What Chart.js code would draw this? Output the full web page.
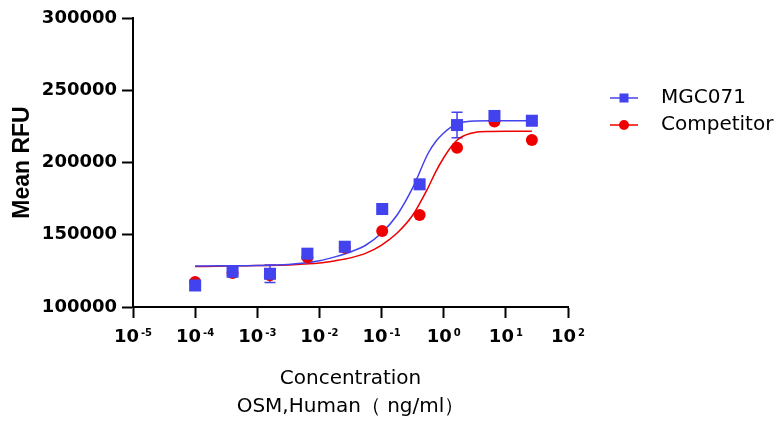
<!DOCTYPE html>
<html>
<head>
<title>OSM dose response</title>
<script src="https://cdn.jsdelivr.net/npm/chart.js"></script>
<style>
  body { margin: 0; background: #fff; }
  #wrap { position: relative; width: 779px; height: 426px; }
</style>
</head>
<body>
<div id="wrap"><canvas id="chart" width="779" height="426"></canvas></div>
<script>
// measured points (ng/ml, mean RFU)
const conc = [0.0001, 0.0004, 0.0016, 0.0064, 0.0256, 0.1024, 0.4096, 1.6384, 6.5536, 26.2144];
const mgc071 = [114900, 124400, 123000, 136900, 141700, 167800, 184900, 225900, 232200, 228900];
const mgc071Err = [0, 0, 6000, 0, 0, 0, 0, 8800, 0, 0];
const competitor = [117300, 123500, 122000, 134500, 141000, 152600, 163700, 210200, 228300, 215600];

// fitted curves
const curveConc = [0.0001, 0.000316, 0.001, 0.00316, 0.00562, 0.01, 0.0178, 0.0316, 0.0562, 0.1, 0.178,
                   0.316, 0.562, 0.75, 1, 1.33, 1.78, 3.16, 5.62, 10, 26.2];
const mgc071Fit = [128400, 128500, 128700, 129400, 130400, 132000, 134700, 138100, 142900, 151200, 163700,
                   182400, 206400, 214700, 220400, 224600, 227400, 228800, 228900, 228900, 228900];
const competitorFit = [128000, 128300, 128700, 129100, 129700, 130400, 132000, 134000, 137300, 142900, 151200,
                       163500, 182700, 193900, 203300, 211100, 216700, 220800, 221500, 221600, 221600];

const xTickValues = [1e-5, 1e-4, 1e-3, 1e-2, 1e-1, 1, 10, 100];
const xTickPowers = ['-5', '-4', '-3', '-2', '-1', '0', '1', '2'];
const yTickValues = [100000, 150000, 200000, 250000, 300000];
const yTickLabels = ['100000', '150000', '200000', '250000', '300000'];

const blue = '#4242EE';
const red = '#EE0000';

function pts(xs, ys) {
    return xs.map((x, i) => ({ x: x, y: ys[i] }));
}

// vertical error bars with caps, drawn under the markers
const errorBars = {
    id: 'errorBars',
    beforeDatasetsDraw(chart) {
        const ctx = chart.ctx;
        const xs = chart.scales.x, ys = chart.scales.y;
        ctx.save();
        ctx.strokeStyle = blue;
        ctx.lineWidth = 1.5;
        conc.forEach((c, i) => {
            const e = mgc071Err[i];
            if (!e) return;
            const px = xs.getPixelForValue(c);
            const top = ys.getPixelForValue(mgc071[i] + e);
            const bot = ys.getPixelForValue(mgc071[i] - e);
            ctx.beginPath();
            ctx.moveTo(px, top); ctx.lineTo(px, bot);
            ctx.moveTo(px - 5.5, top); ctx.lineTo(px + 5.5, top);
            ctx.moveTo(px - 5.5, bot); ctx.lineTo(px + 5.5, bot);
            ctx.stroke();
        });
        ctx.restore();
    }
};

// x tick labels as 10 with a raised exponent, centred on each tick
const powerLabels = {
    id: 'powerLabels',
    afterDraw(chart) {
        const ctx = chart.ctx;
        const xs = chart.scales.x;
        const base = chart.chartArea.bottom + 34.5;
        ctx.save();
        ctx.fillStyle = '#000';
        ctx.textBaseline = 'alphabetic';
        ctx.textAlign = 'left';
        xTickValues.forEach((v, i) => {
            ctx.font = 'bold 18px "DejaVu Sans"';
            const wBase = ctx.measureText('10').width;
            ctx.font = 'bold 10px "DejaVu Sans"';
            const wExp = ctx.measureText(xTickPowers[i]).width;
            const left = xs.getPixelForValue(v) - (wBase + 2 + wExp) / 2;
            ctx.font = 'bold 18px "DejaVu Sans"';
            ctx.fillText('10', left, base);
            ctx.font = 'bold 10px "DejaVu Sans"';
            ctx.fillText(xTickPowers[i], left + wBase + 2, base - 6);
        });
        ctx.restore();
    }
};

// legend on the right: line with marker, then the label
const sideLegend = {
    id: 'sideLegend',
    afterDraw(chart) {
        const ctx = chart.ctx;
        const items = chart.data.datasets.slice(0, 2);
        ctx.save();
        ctx.font = '20px "DejaVu Sans"';
        ctx.textBaseline = 'middle';
        items.forEach((ds, i) => {
            const y = 98 + i * 27;
            ctx.strokeStyle = ds.backgroundColor;
            ctx.fillStyle = ds.backgroundColor;
            ctx.lineWidth = 1.5;
            ctx.beginPath();
            ctx.moveTo(610, y); ctx.lineTo(638, y);
            ctx.stroke();
            if (ds.pointStyle === 'rect') {
                ctx.fillRect(619.5, y - 4.5, 9, 9);
            } else {
                ctx.beginPath();
                ctx.arc(624, y, 5, 0, Math.PI * 2);
                ctx.fill();
            }
            ctx.fillStyle = '#000';
            ctx.fillText(ds.label, 661, y);
        });
        ctx.restore();
    }
};

new Chart(document.getElementById('chart'), {
    type: 'scatter',
    data: {
        datasets: [
            {
                label: 'MGC071',
                data: pts(conc, mgc071),
                pointStyle: 'rect',
                pointRadius: 8.5,
                borderWidth: 0,
                backgroundColor: blue,
                borderColor: blue,
                order: 0
            },
            {
                label: 'Competitor',
                data: pts(conc, competitor),
                pointStyle: 'circle',
                pointRadius: 6,
                borderWidth: 0,
                backgroundColor: red,
                borderColor: red,
                order: 1
            },
            {
                label: 'MGC071 fit',
                data: pts(curveConc, mgc071Fit),
                showLine: true,
                pointRadius: 0,
                borderColor: blue,
                borderWidth: 1.5,
                cubicInterpolationMode: 'monotone',
                order: 2
            },
            {
                label: 'Competitor fit',
                data: pts(curveConc, competitorFit),
                showLine: true,
                pointRadius: 0,
                borderColor: red,
                borderWidth: 1.5,
                cubicInterpolationMode: 'monotone',
                order: 3
            }
        ]
    },
    options: {
        responsive: false,
        animation: false,
        devicePixelRatio: 1,
        layout: { padding: { left: 0, top: 18, right: 211, bottom: 0 } },
        plugins: {
            legend: { display: false },
            tooltip: { enabled: false }
        },
        scales: {
            x: {
                type: 'logarithmic',
                min: 1e-5,
                max: 100,
                afterBuildTicks: s => { s.ticks = xTickValues.map(v => ({ value: v })); },
                afterFit: s => { s.height = 119; },
                ticks: { display: false },
                grid: { drawOnChartArea: false, tickLength: 11, tickWidth: 2, tickColor: '#000' },
                border: { color: '#000', width: 2 },
                title: {
                    display: true,
                    text: ['Concentration', 'OSM,Human（ ng/ml）'],
                    color: '#000',
                    font: { family: 'DejaVu Sans', size: 20, lineHeight: 1.4 },
                    padding: { top: 0, bottom: 5 }
                }
            },
            y: {
                min: 100000,
                max: 300000,
                afterBuildTicks: s => { s.ticks = yTickValues.map(v => ({ value: v })); },
                afterFit: s => { s.width = 133; },
                ticks: {
                    callback: (v, i) => yTickLabels[i],
                    font: { family: 'DejaVu Sans', size: 18, weight: 'bold' },
                    color: '#000',
                    padding: 5
                },
                grid: { drawOnChartArea: false, tickLength: 11, tickWidth: 2, tickColor: '#000' },
                border: { color: '#000', width: 2 },
                title: {
                    display: true,
                    text: 'Mean RFU',
                    color: '#000',
                    font: { family: 'Liberation Sans', size: 23, weight: 'bold' },
                    padding: { top: 9, bottom: 0 }
                }
            }
        }
    },
    plugins: [errorBars, powerLabels, sideLegend]
});
</script>
</body>
</html>
